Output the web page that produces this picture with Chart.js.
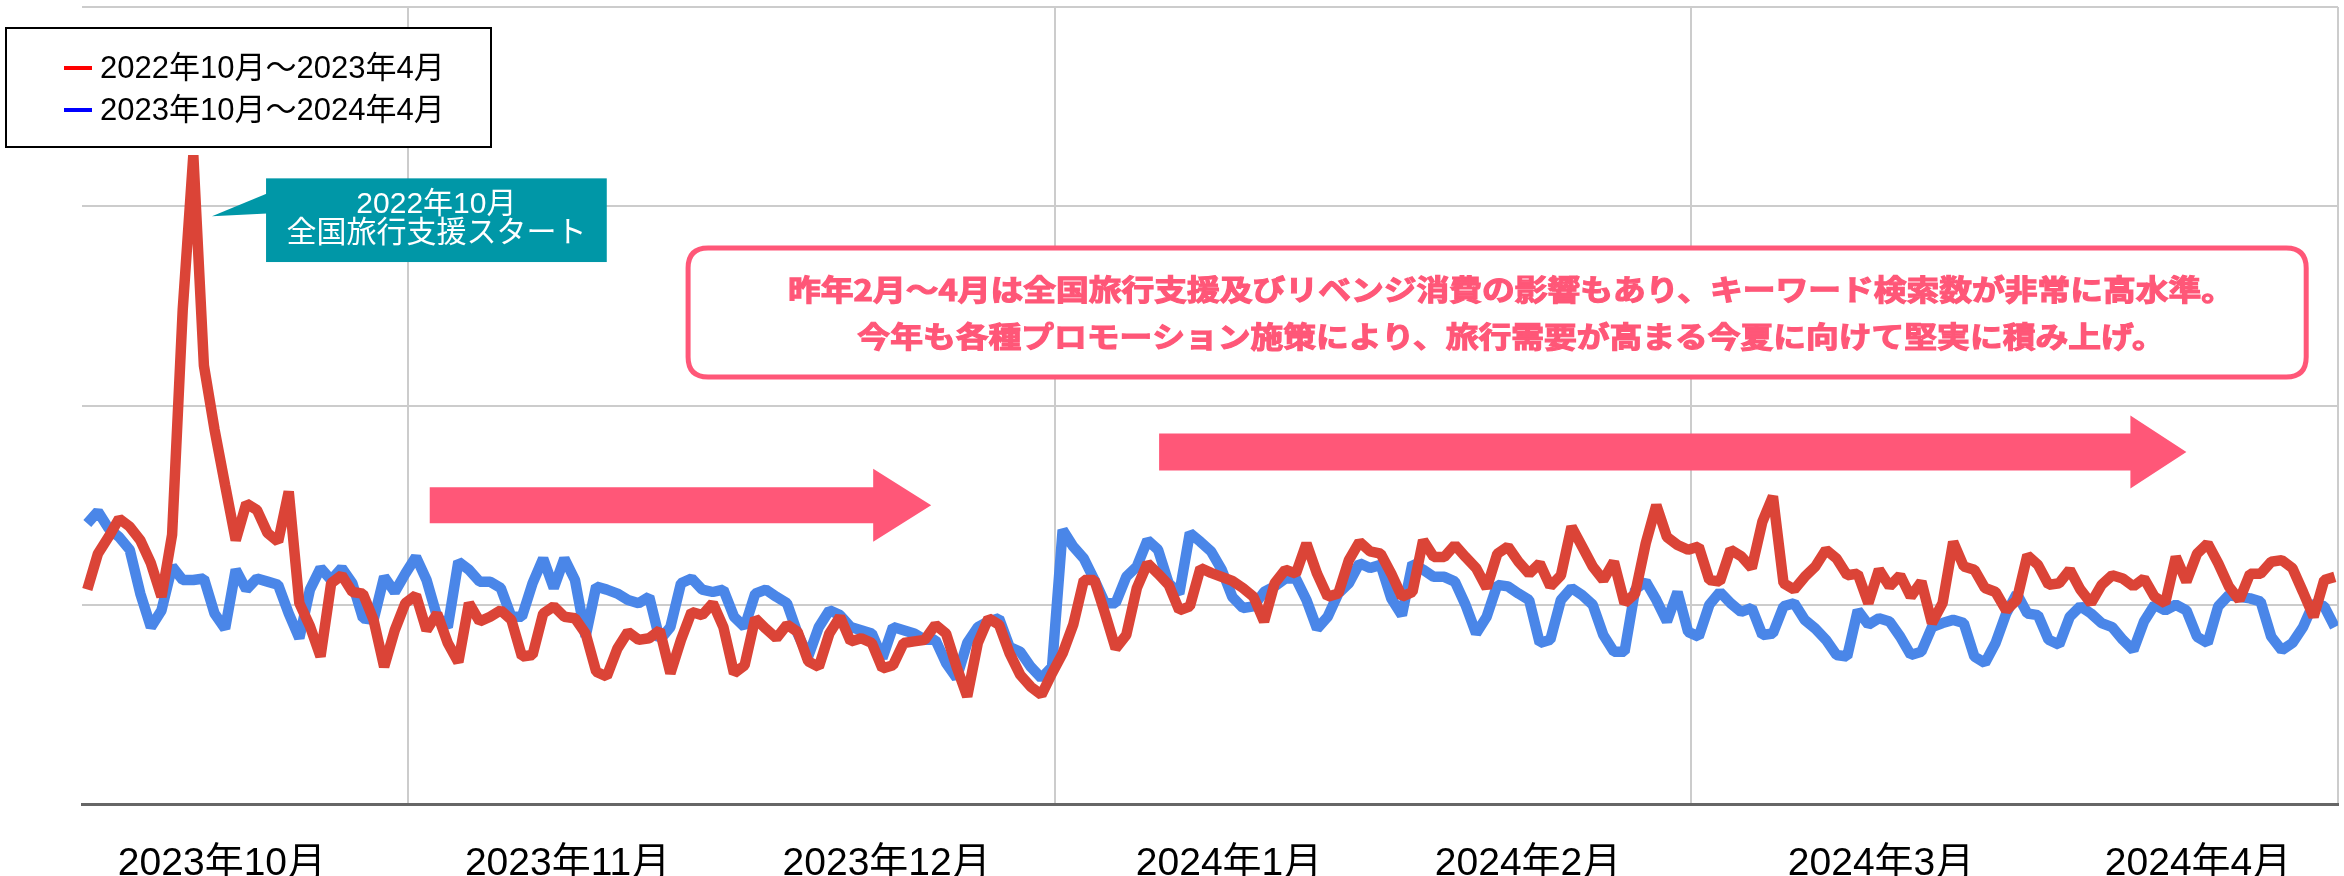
<!DOCTYPE html>
<html>
<head>
<meta charset="utf-8">
<script src="https://cdn.jsdelivr.net/npm/chart.js@4.4.1/dist/chart.umd.min.js"></script>
<style>
  html, body { margin: 0; padding: 0; background: #fff; }
</style>
</head>
<body>
<canvas id="myChart" width="2344" height="876"></canvas>
<script>
// series names (legend)
const seriesNames = ['2022年10月～2023年4月', '2023年10月～2024年4月'];

// daily search index, Oct 1 -> Apr 30
const lastYear = [
  26.9, 31.4, 33.5, 35.8, 34.8, 33.1, 30.2, 26.0, 33.8, 62.0,
  81.4, 55.0, 47.0, 40.0, 33.1, 37.7, 36.9, 34.0, 32.9, 39.2,
  25.2, 22.3, 18.5, 27.7, 28.7, 26.6, 26.4, 23.1, 17.2, 21.8,
  25.2, 26.2, 21.8, 23.9, 20.2, 17.8, 25.2, 22.9, 23.5, 24.3,
  23.1, 18.5, 18.7, 23.9, 24.8, 23.5, 23.3, 21.4, 16.6, 16.0,
  19.5, 21.6, 20.6, 20.8, 21.8, 16.4, 20.6, 24.1, 23.7, 25.2,
  22.2, 16.4, 17.4, 23.3, 22.0, 20.8, 22.5, 21.6, 17.9, 17.2,
  21.4, 23.5, 20.4, 20.8, 20.2, 17.0, 17.4, 20.2, 20.4, 20.6,
  22.5, 21.4, 17.2, 13.5, 20.2, 23.3, 22.5, 18.9, 16.2, 14.7,
  13.7, 16.4, 18.9, 22.5, 28.1, 28.1, 23.9, 19.5, 21.2, 27.1,
  30.2, 28.9, 27.5, 24.3, 24.8, 29.6, 29.0, 28.5, 28.0, 27.1,
  26.0, 22.9, 27.7, 29.4, 28.9, 32.7, 28.9, 26.0, 26.4, 30.6,
  32.9, 31.7, 31.4, 28.9, 26.0, 26.6, 33.1, 31.0, 31.0, 32.5,
  31.0, 29.6, 27.1, 31.4, 32.3, 30.4, 28.9, 30.2, 27.3, 28.7,
  34.8, 32.3, 29.8, 28.1, 30.4, 25.2, 26.4, 32.7, 37.5, 33.5,
  32.5, 31.9, 32.3, 28.1, 27.9, 31.9, 31.1, 29.6, 35.4, 38.6,
  27.7, 26.9, 28.5, 29.8, 31.9, 30.8, 28.7, 28.9, 25.2, 29.4,
  27.3, 28.7, 26.0, 27.9, 22.7, 25.2, 32.9, 29.8, 29.4, 27.1,
  26.6, 24.3, 25.6, 31.2, 30.0, 27.5, 27.7, 29.4, 26.9, 25.2,
  27.5, 28.7, 28.3, 27.3, 28.3, 26.0, 25.2, 31.0, 27.9, 31.4,
  32.7, 30.2, 27.3, 25.6, 28.9, 28.9, 30.4, 30.6, 29.6, 26.6,
  23.5, 28.1, 28.5
];
const thisYear = [
  35.2, 36.7, 34.6, 33.5, 31.9, 26.4, 22.2, 24.3, 29.8, 28.1,
  28.1, 28.3, 23.9, 22.0, 29.4, 26.9, 28.3, 27.9, 27.5, 23.9,
  20.8, 26.9, 29.6, 28.1, 29.6, 27.7, 23.3, 23.1, 28.5, 26.6,
  28.9, 31.0, 28.1, 23.5, 22.2, 30.4, 29.4, 27.9, 27.9, 27.1,
  23.5, 23.5, 27.7, 30.8, 27.1, 30.8, 28.1, 21.0, 27.3, 26.9,
  26.4, 25.6, 25.2, 26.0, 20.6, 22.2, 27.7, 28.3, 26.9, 26.6,
  26.9, 23.5, 22.2, 26.4, 26.9, 26.0, 25.2, 21.4, 18.5, 22.2,
  24.3, 23.7, 22.2, 21.8, 21.4, 18.3, 22.2, 21.8, 21.4, 20.6,
  20.6, 17.7, 15.8, 20.2, 22.2, 22.9, 23.3, 19.7, 19.1, 17.2,
  15.8, 17.2, 34.4, 32.3, 30.8, 28.1, 25.2, 25.2, 28.5, 29.8,
  33.1, 31.9, 27.7, 26.4, 34.0, 32.9, 31.7, 29.4, 26.0, 24.6,
  24.8, 26.6, 27.3, 28.3, 28.3, 25.6, 22.0, 23.5, 26.4, 27.7,
  30.2, 29.6, 30.0, 25.8, 23.7, 30.2, 29.4, 28.5, 28.5, 27.9,
  25.0, 21.4, 23.5, 27.5, 27.3, 26.4, 25.6, 20.2, 20.6, 25.6,
  27.1, 26.2, 25.0, 21.2, 19.1, 19.1, 26.9, 27.9, 25.6, 22.9,
  26.6, 21.6, 21.0, 25.0, 26.6, 25.2, 24.1, 24.6, 21.2, 21.4,
  24.8, 25.2, 23.1, 22.0, 20.6, 18.7, 18.5, 24.3, 22.5, 23.3,
  22.9, 21.0, 18.7, 19.1, 22.2, 22.7, 23.1, 22.7, 18.5, 17.7,
  20.2, 23.9, 26.4, 23.9, 23.7, 20.6, 20.0, 23.5, 24.8, 23.9,
  22.7, 22.2, 20.6, 19.3, 22.9, 25.0, 24.3, 25.0, 24.3, 21.0,
  20.2, 24.8, 26.2, 26.0, 25.8, 25.4, 21.0, 19.3, 20.2, 22.2,
  25.2, 24.8, 22.2
];

// x axis text and where it sits (day index)
const monthLabels = ['2023年10月', '2023年11月', '2023年12月', '2024年1月', '2024年2月', '2024年3月', '2024年4月'];
const monthLabelDays = [12.7, 45.3, 75.4, 107.7, 135.9, 169.2, 199.1];
const gridDays = [30.25, 91.3, 151.3, 212.3];
const valueGrid = [25, 50, 75, 100];

// annotation texts
const calloutLines = ['2022年10月', '全国旅行支援スタート'];
const noteLines = [
  '昨年2月～4月は全国旅行支援及びリベンジ消費の影響もあり、キーワード検索数が非常に高水準。',
  '今年も各種プロモーション施策により、旅行需要が高まる今夏に向けて堅実に積み上げ。'
];

const dayIndex = lastYear.map((v, i) => i);

const RED = '#db4437';
const BLUE = '#4a86e8';
const PINK = '#ff5778';
const TEAL = '#0097a7';
const LATIN = '"Liberation Sans", "Noto Sans CJK JP", sans-serif';

function drawArrow(ctx, x0, tip, yc, shaft, head, headLen) {
  const xb = tip - headLen;
  ctx.beginPath();
  ctx.moveTo(x0, yc - shaft);
  ctx.lineTo(xb, yc - shaft);
  ctx.lineTo(xb, yc - head);
  ctx.lineTo(tip, yc);
  ctx.lineTo(xb, yc + head);
  ctx.lineTo(xb, yc + shaft);
  ctx.lineTo(x0, yc + shaft);
  ctx.closePath();
  ctx.fill();
}

function roundBox(ctx, x0, y0, x1, y1, r) {
  ctx.beginPath();
  ctx.moveTo(x0 + r, y0);
  ctx.lineTo(x1 - r, y0);
  ctx.quadraticCurveTo(x1, y0, x1, y0 + r);
  ctx.lineTo(x1, y1 - r);
  ctx.quadraticCurveTo(x1, y1, x1 - r, y1);
  ctx.lineTo(x0 + r, y1);
  ctx.quadraticCurveTo(x0, y1, x0, y1 - r);
  ctx.lineTo(x0, y0 + r);
  ctx.quadraticCurveTo(x0, y0, x0 + r, y0);
  ctx.closePath();
}

const overlay = {
  id: 'overlay',
  afterDatasetsDraw(chart) {
    const ctx = chart.ctx;
    const X = v => chart.scales.x.getPixelForValue(v);
    const Y = v => chart.scales.y.getPixelForValue(v);
    ctx.save();

    // arrows
    ctx.fillStyle = PINK;
    drawArrow(ctx, X(32.3), X(79.6), Y(37.5), 18, 36.5, 58);
    drawArrow(ctx, X(101.1), X(198.0), Y(44.15), 18.5, 36.5, 56);

    // teal callout
    const cx0 = X(16.86), cx1 = X(49.0), cy0 = Y(78.5), cy1 = Y(68.0);
    ctx.fillStyle = TEAL;
    ctx.fillRect(cx0, cy0, cx1 - cx0, cy1 - cy0);
    ctx.beginPath();
    ctx.moveTo(cx0 + 1, Y(76.6));
    ctx.lineTo(X(11.76), Y(73.75));
    ctx.lineTo(cx0 + 1, Y(74.1));
    ctx.closePath();
    ctx.fill();
    ctx.fillStyle = '#fff';
    ctx.font = '30px ' + LATIN;
    ctx.textAlign = 'center';
    ctx.textBaseline = 'middle';
    ctx.fillText(calloutLines[0], (cx0 + cx1) / 2, Y(75.2));
    ctx.fillText(calloutLines[1], (cx0 + cx1) / 2, Y(71.5));

    // pink note box
    roundBox(ctx, X(56.67), Y(69.76), X(209.3), Y(53.58), 20);
    ctx.fillStyle = '#fff';
    ctx.fill();
    ctx.lineWidth = 5;
    ctx.strokeStyle = PINK;
    ctx.stroke();
    ctx.fillStyle = PINK;
    ctx.lineWidth = 1.2;
    ctx.font = 'bold 29px "Noto Sans CJK JP", sans-serif';
    const sx = 1446 / ctx.measureText(noteLines[0]).width;
    [64.5, 58.6].forEach((v, k) => {
      ctx.save();
      ctx.translate(X(134.3), Y(v));
      ctx.scale(sx, 1);
      ctx.fillText(noteLines[k], 0, 0);
      ctx.strokeText(noteLines[k], 0, 0);
      ctx.restore();
    });

    // legend box
    ctx.fillStyle = '#fff';
    ctx.fillRect(6, 28, 485, 119);
    ctx.lineWidth = 2;
    ctx.strokeStyle = '#000';
    ctx.strokeRect(6, 28, 485, 119);
    const legendColors = ['#ff0000', '#0000ff'];
    ctx.font = '31px ' + LATIN;
    ctx.textAlign = 'left';
    chart.data.datasets.forEach((ds, k) => {
      const y = 68 + k * 42;
      ctx.fillStyle = legendColors[k];
      ctx.fillRect(64, y - 2, 28, 4);
      ctx.fillStyle = '#000';
      ctx.fillText(ds.label, 100, y + 1);
    });
    ctx.restore();
  }
};

const ctx = document.getElementById('myChart').getContext('2d');
const myChart = new Chart(ctx, {
  type: 'line',
  data: {
    labels: dayIndex,
    datasets: [{
      label: seriesNames[0],
      data: lastYear,
      borderColor: RED,
      borderWidth: 10.5,
      borderJoinStyle: 'bevel',
      pointRadius: 0,
      tension: 0
    }, {
      label: seriesNames[1],
      data: thisYear,
      borderColor: BLUE,
      borderWidth: 10.5,
      borderJoinStyle: 'bevel',
      pointRadius: 0,
      tension: 0
    }]
  },
  options: {
    responsive: false,
    animation: false,
    devicePixelRatio: 1,
    layout: { padding: { left: 82, right: 6, top: 7, bottom: 0 } },
    plugins: { legend: { display: false }, tooltip: { enabled: false } },
    scales: {
      x: {
        type: 'linear',
        min: -0.5,
        max: 212.3,
        afterBuildTicks: s => { s.ticks = gridDays.map(v => ({ value: v })); },
        ticks: { display: false },
        grid: { color: '#cccccc', lineWidth: 2, drawTicks: false },
        border: { display: true, color: '#666666', width: 3 }
      },
      x2: {
        type: 'linear',
        position: 'bottom',
        min: -0.5,
        max: 212.3,
        afterBuildTicks: s => { s.ticks = monthLabelDays.map(v => ({ value: v })); },
        afterFit: s => { s.height = 72; },
        ticks: {
          callback: (v, i) => monthLabels[i],
          color: '#000',
          padding: 37,
          maxRotation: 0,
          autoSkip: false,
          font: { family: '"Liberation Sans", "Noto Sans CJK JP", sans-serif', size: 39 }
        },
        grid: { display: false, drawTicks: false },
        border: { display: false }
      },
      y: {
        min: 0,
        max: 100,
        afterBuildTicks: s => { s.ticks = valueGrid.map(v => ({ value: v })); },
        afterFit: s => { s.width = 0; },
        ticks: { display: false },
        grid: { color: '#cccccc', lineWidth: 2, drawTicks: false },
        border: { display: false }
      }
    }
  },
  plugins: [overlay]
});
</script>
</body>
</html>
